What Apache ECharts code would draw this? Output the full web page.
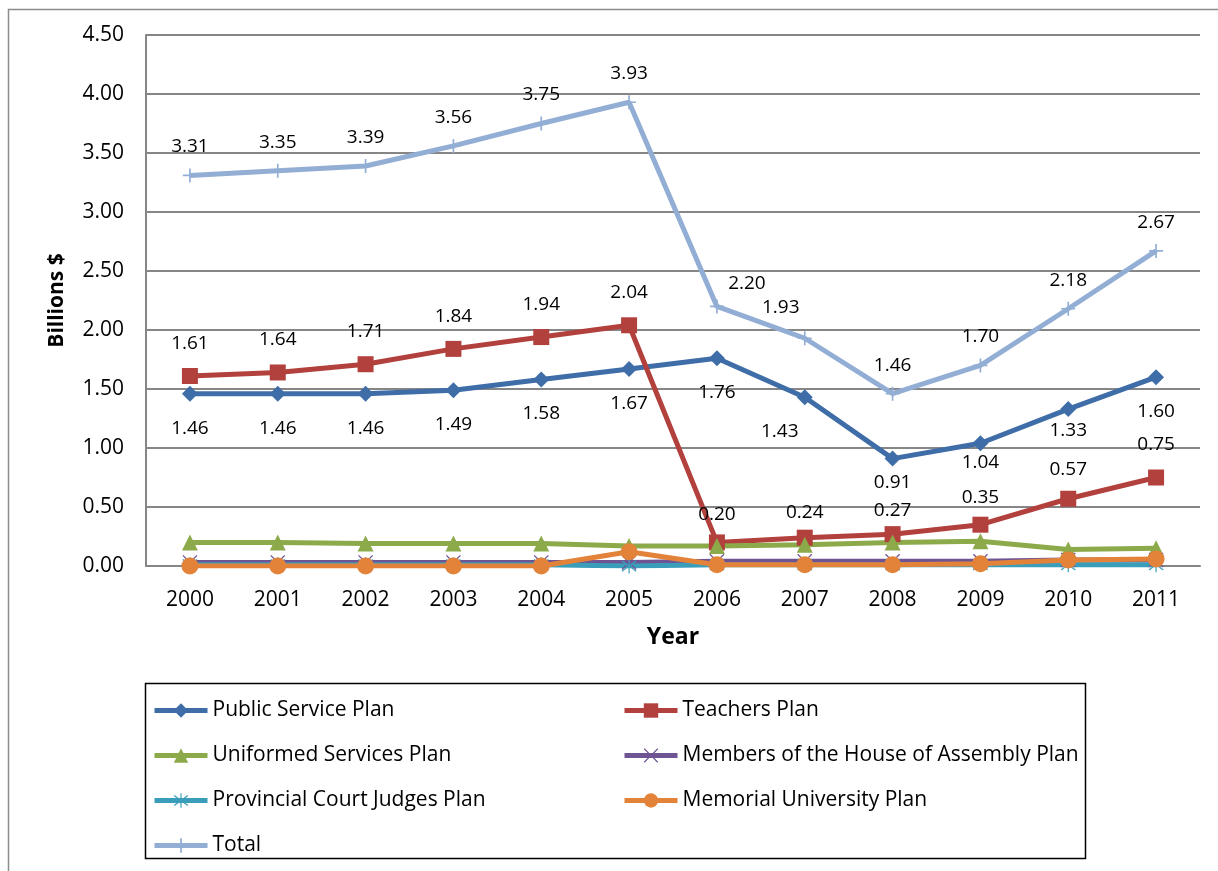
<!DOCTYPE html>
<html>
<head>
<meta charset="utf-8">
<title>Pension Plan Unfunded Liabilities</title>
<script src="https://cdn.jsdelivr.net/npm/echarts@6/dist/echarts.min.js"></script>
<style>
  html, body { margin: 0; padding: 0; background: #ffffff; }
  #chart { width: 1218px; height: 871px; }
</style>
</head>
<body>
<div id="chart"></div>
<script>
// Fiscal years on the category axis
const years = ['2000', '2001', '2002', '2003', '2004', '2005', '2006', '2007', '2008', '2009', '2010', '2011'];

// Values in billions of dollars, one array per plan
const publicService   = [1.46, 1.46, 1.46, 1.49, 1.58, 1.67, 1.76, 1.43, 0.91, 1.04, 1.33, 1.60];
const teachers        = [1.61, 1.64, 1.71, 1.84, 1.94, 2.04, 0.20, 0.24, 0.27, 0.35, 0.57, 0.75];
const uniformed       = [0.20, 0.20, 0.19, 0.19, 0.19, 0.17, 0.17, 0.18, 0.20, 0.21, 0.14, 0.15];
const membersHouse    = [0.03, 0.03, 0.03, 0.03, 0.03, 0.03, 0.04, 0.04, 0.04, 0.04, 0.05, 0.05];
const courtJudges     = [0.01, 0.01, 0.01, 0.01, 0.01, 0.00, 0.01, 0.01, 0.01, 0.01, 0.01, 0.01];
const memorial        = [0.00, 0.00, 0.00, 0.00, 0.00, 0.12, 0.01, 0.01, 0.01, 0.02, 0.05, 0.06];
const total           = [3.31, 3.35, 3.39, 3.56, 3.75, 3.93, 2.20, 1.93, 1.46, 1.70, 2.18, 2.67];

// Value-axis ticks
const yMin = 0, yMax = 4.5, yStep = 0.5;

const FONT = '"Open Sans", "Noto Sans", sans-serif';

// Thin stroked marker shapes built as filled outlines
const plusPath = 'path://M4.4,0 H5.6 V4.4 H10 V5.6 H5.6 V10 H4.4 V5.6 H0 V4.4 H4.4 Z';
const crossPath = 'path://M0.6,0 L5,4.4 L9.4,0 L10,0.6 L5.6,5 L10,9.4 L9.4,10 L5,5.6 L0.6,10 L0,9.4 L4.4,5 L0,0.6 Z';
const starPath = 'path://M4.6,0 H5.4 V4.3 L9.5,1.2 L10,1.8 L5.9,5 L10,8.2 L9.5,8.8 L5.4,5.7 V10 H4.6 V5.7 L0.5,8.8 L0,8.2 L4.1,5 L0,1.8 L0.5,1.2 L4.6,4.3 Z';

// Individual data labels moved closer to their points (index -> label overrides)
const labelNudges = {
  'Public Service Plan': { 8: { distance: 6 }, 9: { distance: 2 }, 10: { distance: 4 } },
  'Teachers Plan': { 6: { distance: 10 }, 7: { distance: 8 }, 8: { distance: 6 }, 9: { distance: 10 }, 10: { distance: 12 } },
  'Total': { 6: { distance: 6 }, 7: { distance: 14 } }
};
// Sideways shifts for labels that would sit on a line (index -> pixels)
const labelShifts = {
  'Public Service Plan': { 7: -25 },
  'Total': { 6: 30, 7: -24 }
};

function buildData(name, values) {
  const nudges = labelNudges[name] || {};
  return values.map((v, i) => nudges[i] ? { value: v, label: nudges[i] } : v);
}

function lineSeries(name, values, color, symbol, size, label) {
  const shifts = labelShifts[name] || {};
  const s = {
    name: name,
    type: 'line',
    data: buildData(name, values),
    symbol: symbol,
    symbolSize: size,
    showAllSymbol: true,
    lineStyle: { color: color, width: 5 },
    itemStyle: { color: color },
    emphasis: { disabled: true },
    animation: false,
    labelLayout: p => ({ dx: shifts[p.dataIndex] || 0, hideOverlap: false }),
    z: 2
  };
  if (label) {
    s.label = Object.assign({
      show: true,
      formatter: p => Number(p.value).toFixed(2),
      color: '#000',
      fontFamily: FONT,
      fontSize: 19
    }, label);
  }
  return s;
}

const chart = echarts.init(document.getElementById('chart'), null, { renderer: 'canvas' });

const legendCommon = {
  orient: 'vertical',
  top: 700,
  height: 168,
  padding: 0,
  itemWidth: 53,
  itemHeight: 18,
  itemGap: 24,
  selectedMode: false,
  lineStyle: { width: 5 },
  textStyle: { fontFamily: FONT, fontSize: 21, color: '#000' }
};

chart.setOption({
  backgroundColor: '#ffffff',
  animation: false,
  grid: { left: 146, right: 18, top: 35, bottom: 305, containLabel: false },
  xAxis: {
    type: 'category',
    data: years,
    boundaryGap: true,
    name: 'Year',
    nameLocation: 'middle',
    nameGap: 60,
    nameTextStyle: { fontFamily: FONT, fontSize: 23, fontWeight: 'bold', color: '#000' },
    axisLine: { show: true, lineStyle: { color: '#868686', width: 2 } },
    axisTick: { show: false },
    axisLabel: { fontFamily: FONT, fontSize: 21, color: '#000', margin: 24 },
    splitLine: { show: false }
  },
  yAxis: {
    type: 'value',
    min: yMin,
    max: yMax,
    interval: yStep,
    name: 'Billions $',
    nameLocation: 'middle',
    nameGap: 78,
    nameRotate: 90,
    nameTextStyle: { fontFamily: FONT, fontSize: 21, fontWeight: 'bold', color: '#000' },
    axisLine: { show: true, lineStyle: { color: '#868686', width: 2 } },
    axisTick: { show: false },
    axisLabel: { fontFamily: FONT, fontSize: 21, color: '#000', margin: 22, formatter: v => v.toFixed(2) },
    splitLine: { show: true, lineStyle: { color: '#868686', width: 2 } }
  },
  legend: [
    Object.assign({}, legendCommon, {
      left: 152,
      data: ['Public Service Plan', 'Uniformed Services Plan', 'Provincial Court Judges Plan', 'Total']
    }),
    Object.assign({}, legendCommon, {
      left: 622,
      data: ['Teachers Plan', 'Members of the House of Assembly Plan', 'Memorial University Plan']
    })
  ],
  graphic: [
    {
      type: 'rect',
      silent: true,
      shape: { x: 8.5, y: 9.5, width: 1400, height: 1000 },
      style: { fill: 'none', stroke: '#8c8c8c', lineWidth: 1.5 }
    },
    {
      type: 'rect',
      silent: true,
      shape: { x: 145.5, y: 683.5, width: 940, height: 175 },
      style: { fill: 'none', stroke: '#000', lineWidth: 1.5 }
    }
  ],
  series: [
    lineSeries('Public Service Plan', publicService, '#3E6DA8', 'diamond', 16,
      { position: 'bottom', distance: 17 }),
    lineSeries('Teachers Plan', teachers, '#B2403D', 'rect', 16,
      { position: 'top', distance: 15 }),
    lineSeries('Uniformed Services Plan', uniformed, '#8CAA4A', 'triangle', 16, null),
    lineSeries('Members of the House of Assembly Plan', membersHouse, '#6F5494', crossPath, 15, null),
    lineSeries('Provincial Court Judges Plan', courtJudges, '#3A9EBA', starPath, 15, null),
    lineSeries('Memorial University Plan', memorial, '#E3833A', 'circle', 17, null),
    lineSeries('Total', total, '#93AED4', plusPath, 14,
      { position: 'top', distance: 12 })
  ]
});
</script>
</body>
</html>
